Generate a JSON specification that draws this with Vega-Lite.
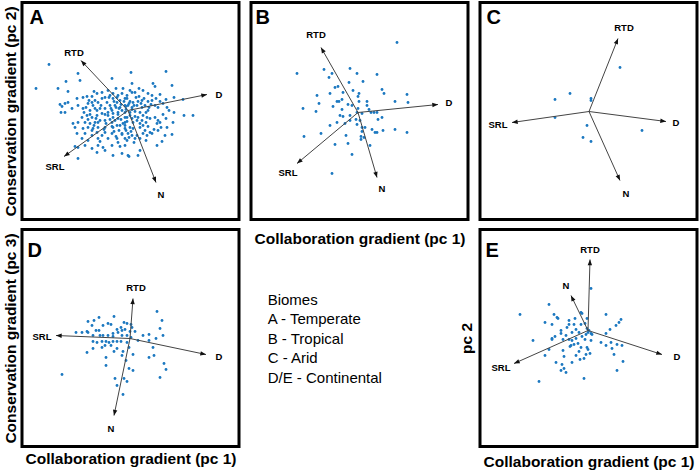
{
"$schema": "https://vega.github.io/schema/vega-lite/v6.json",
"background": "white",
"padding": {"left": 1, "top": 0.5, "right": 0, "bottom": 1},
"config": {
  "font": "Liberation Sans",
  "view": {"stroke": "black", "strokeWidth": 3},
  "axis": {"labels": false, "ticks": false, "domain": false, "grid": false, "titleFont": "Liberation Sans", "titleFontSize": 15.5, "titleFontWeight": "bold", "titleColor": "black"}
},
"datasets": {
"ptsA": [{"x":27,"y":62},{"x":56,"y":71},{"x":90,"y":76},{"x":44,"y":79},{"x":58,"y":78},{"x":14,"y":86},{"x":36,"y":86},{"x":46,"y":89},{"x":72,"y":89},{"x":94,"y":86},{"x":101,"y":86},{"x":75,"y":91},{"x":80,"y":90},{"x":86,"y":88},{"x":38,"y":102},{"x":40,"y":104},{"x":43,"y":101},{"x":46,"y":100},{"x":55,"y":96},{"x":61,"y":95},{"x":65,"y":94},{"x":70,"y":94},{"x":56,"y":103},{"x":50,"y":106},{"x":39,"y":110},{"x":43,"y":110},{"x":61,"y":106},{"x":66,"y":101},{"x":70,"y":100},{"x":73,"y":98},{"x":76,"y":100},{"x":80,"y":96},{"x":83,"y":95},{"x":88,"y":93},{"x":91,"y":96},{"x":95,"y":95},{"x":98,"y":98},{"x":103,"y":96},{"x":85,"y":100},{"x":88,"y":103},{"x":93,"y":103},{"x":98,"y":105},{"x":103,"y":103},{"x":68,"y":108},{"x":73,"y":106},{"x":78,"y":106},{"x":83,"y":106},{"x":90,"y":108},{"x":96,"y":110},{"x":103,"y":110},{"x":60,"y":115},{"x":65,"y":113},{"x":70,"y":115},{"x":75,"y":113},{"x":80,"y":111},{"x":86,"y":113},{"x":91,"y":115},{"x":96,"y":116},{"x":103,"y":115},{"x":56,"y":120},{"x":63,"y":120},{"x":68,"y":121},{"x":73,"y":120},{"x":78,"y":118},{"x":83,"y":118},{"x":90,"y":120},{"x":103,"y":120},{"x":51,"y":121},{"x":53,"y":125},{"x":61,"y":126},{"x":66,"y":125},{"x":71,"y":126},{"x":76,"y":125},{"x":83,"y":125},{"x":91,"y":125},{"x":98,"y":123},{"x":103,"y":126},{"x":55,"y":131},{"x":63,"y":131},{"x":70,"y":133},{"x":75,"y":130},{"x":83,"y":130},{"x":90,"y":131},{"x":100,"y":131},{"x":60,"y":136},{"x":66,"y":138},{"x":76,"y":136},{"x":86,"y":136},{"x":95,"y":136},{"x":103,"y":136},{"x":53,"y":144},{"x":56,"y":145},{"x":63,"y":143},{"x":70,"y":146},{"x":76,"y":143},{"x":81,"y":145},{"x":90,"y":143},{"x":98,"y":144},{"x":75,"y":150},{"x":91,"y":153},{"x":100,"y":151},{"x":56,"y":156},{"x":83,"y":148},{"x":103,"y":143},{"x":107,"y":154},
{"x":109,"y":70},{"x":144,"y":69},{"x":110,"y":81},{"x":131,"y":81},{"x":133,"y":84},{"x":150,"y":83},{"x":110,"y":90},{"x":138,"y":92},{"x":152,"y":95},{"x":161,"y":97},{"x":105,"y":96},{"x":108,"y":99},{"x":111,"y":100},{"x":116,"y":99},{"x":120,"y":98},{"x":126,"y":99},{"x":130,"y":98},{"x":133,"y":103},{"x":136,"y":105},{"x":145,"y":105},{"x":106,"y":103},{"x":110,"y":105},{"x":115,"y":103},{"x":120,"y":105},{"x":123,"y":103},{"x":126,"y":108},{"x":104,"y":107},{"x":108,"y":110},{"x":113,"y":109},{"x":118,"y":110},{"x":121,"y":113},{"x":125,"y":115},{"x":128,"y":116},{"x":133,"y":115},{"x":136,"y":118},{"x":105,"y":115},{"x":110,"y":116},{"x":115,"y":118},{"x":120,"y":118},{"x":152,"y":110},{"x":162,"y":113},{"x":135,"y":121},{"x":138,"y":120},{"x":151,"y":120},{"x":103,"y":123},{"x":108,"y":125},{"x":111,"y":126},{"x":118,"y":125},{"x":123,"y":128},{"x":136,"y":128},{"x":145,"y":125},{"x":106,"y":131},{"x":110,"y":133},{"x":125,"y":133},{"x":130,"y":131},{"x":143,"y":133},{"x":150,"y":132},{"x":105,"y":138},{"x":113,"y":136},{"x":135,"y":143},{"x":140,"y":139},{"x":106,"y":153},{"x":118,"y":148},{"x":116,"y":153},{"x":171,"y":113},
{"x":95,"y":100},{"x":99,"y":102},{"x":102,"y":99},{"x":97,"y":106},{"x":100,"y":108},{"x":104,"y":104},{"x":107,"y":101},{"x":110,"y":107},{"x":112,"y":103},{"x":114,"y":95},{"x":117,"y":94},{"x":119,"y":101},{"x":122,"y":96},{"x":124,"y":110},{"x":127,"y":105},{"x":129,"y":102},{"x":92,"y":99},{"x":94,"y":105},{"x":96,"y":112},{"x":99,"y":117},{"x":101,"y":121},{"x":105,"y":119},{"x":108,"y":113},{"x":111,"y":120},{"x":113,"y":114},{"x":116,"y":115},{"x":118,"y":121},{"x":121,"y":123},{"x":124,"y":120},{"x":126,"y":124},{"x":89,"y":106},{"x":91,"y":111},{"x":93,"y":118},{"x":95,"y":123},{"x":97,"y":128},{"x":100,"y":132},{"x":104,"y":128},{"x":107,"y":135},{"x":109,"y":129},{"x":112,"y":140},{"x":115,"y":133},{"x":118,"y":136},{"x":121,"y":131},{"x":124,"y":138},{"x":86,"y":110},{"x":88,"y":117},{"x":90,"y":124},{"x":92,"y":129},{"x":94,"y":134},{"x":96,"y":140},{"x":84,"y":121},{"x":82,"y":127},{"x":80,"y":133},{"x":78,"y":139},{"x":76,"y":120},{"x":74,"y":116},{"x":72,"y":123},{"x":70,"y":128},{"x":68,"y":112},{"x":66,"y":117},{"x":64,"y":105},{"x":62,"y":110},{"x":67,"y":98},{"x":71,"y":103},{"x":75,"y":108},{"x":79,"y":103},{"x":83,"y":112},{"x":87,"y":95},{"x":91,"y":91},{"x":96,"y":93},{"x":100,"y":91},{"x":105,"y":93},{"x":108,"y":88},{"x":113,"y":90},{"x":117,"y":86},{"x":121,"y":88},{"x":126,"y":91},{"x":130,"y":93},{"x":134,"y":96},{"x":138,"y":99},{"x":141,"y":101},{"x":144,"y":97},{"x":147,"y":108},{"x":141,"y":112},{"x":144,"y":116},{"x":139,"y":125},{"x":132,"y":127},{"x":128,"y":130}],
"ptsB": [{"x":146,"y":40},{"x":46,"y":71},{"x":73,"y":67},{"x":81,"y":71},{"x":78,"y":75},{"x":99,"y":66},{"x":106,"y":71},{"x":126,"y":72},{"x":112,"y":79},{"x":98,"y":80},{"x":87,"y":84},{"x":84,"y":85},{"x":79,"y":91},{"x":92,"y":90},{"x":102,"y":88},{"x":108,"y":91},{"x":107,"y":94},{"x":131,"y":87},{"x":133,"y":91},{"x":66,"y":93},{"x":144,"y":99},{"x":156,"y":92},{"x":157,"y":100},{"x":68,"y":101},{"x":82,"y":104},{"x":86,"y":99},{"x":88,"y":99},{"x":91,"y":97},{"x":97,"y":102},{"x":101,"y":103},{"x":108,"y":99},{"x":116,"y":99},{"x":116,"y":103},{"x":118,"y":107},{"x":123,"y":110},{"x":126,"y":110},{"x":52,"y":106},{"x":65,"y":109},{"x":91,"y":107},{"x":89,"y":113},{"x":92,"y":114},{"x":99,"y":113},{"x":106,"y":110},{"x":111,"y":111},{"x":99,"y":118},{"x":105,"y":117},{"x":109,"y":118},{"x":86,"y":120},{"x":127,"y":117},{"x":131,"y":115},{"x":79,"y":123},{"x":94,"y":121},{"x":106,"y":122},{"x":111,"y":125},{"x":114,"y":125},{"x":121,"y":127},{"x":124,"y":130},{"x":126,"y":130},{"x":132,"y":128},{"x":144,"y":127},{"x":156,"y":130},{"x":53,"y":134},{"x":70,"y":131},{"x":95,"y":133},{"x":110,"y":134},{"x":110,"y":137},{"x":113,"y":135},{"x":84,"y":142},{"x":97,"y":141},{"x":119,"y":143},{"x":101,"y":152},{"x":81,"y":171},{"x":111,"y":129},{"x":107,"y":106},{"x":120,"y":110}],
"ptsC": [{"x":140,"y":65},{"x":90,"y":91},{"x":75,"y":97},{"x":111,"y":96},{"x":111,"y":98},{"x":75,"y":115},{"x":107,"y":123},{"x":103,"y":135},{"x":111,"y":139},{"x":162,"y":128}],
"ptsD": [{"x":135,"y":82},{"x":77,"y":88},{"x":92,"y":87},{"x":66,"y":92},{"x":72,"y":91},{"x":140,"y":91},{"x":86,"y":94},{"x":89,"y":95},{"x":102,"y":93},{"x":105,"y":94},{"x":109,"y":95},{"x":70,"y":96},{"x":81,"y":96},{"x":99,"y":98},{"x":110,"y":98},{"x":138,"y":99},{"x":74,"y":101},{"x":77,"y":101},{"x":95,"y":100},{"x":100,"y":101},{"x":103,"y":100},{"x":54,"y":103},{"x":60,"y":103},{"x":65,"y":102},{"x":108,"y":102},{"x":113,"y":102},{"x":96,"y":103},{"x":91,"y":104},{"x":121,"y":106},{"x":127,"y":105},{"x":141,"y":106},{"x":78,"y":106},{"x":81,"y":106},{"x":86,"y":106},{"x":91,"y":107},{"x":100,"y":106},{"x":105,"y":106},{"x":109,"y":108},{"x":71,"y":112},{"x":75,"y":113},{"x":80,"y":112},{"x":84,"y":112},{"x":87,"y":113},{"x":91,"y":112},{"x":95,"y":112},{"x":99,"y":112},{"x":105,"y":113},{"x":116,"y":111},{"x":127,"y":111},{"x":134,"y":109},{"x":83,"y":116},{"x":89,"y":116},{"x":80,"y":118},{"x":71,"y":119},{"x":95,"y":119},{"x":101,"y":122},{"x":92,"y":122},{"x":107,"y":118},{"x":131,"y":118},{"x":65,"y":123},{"x":84,"y":128},{"x":100,"y":126},{"x":111,"y":125},{"x":127,"y":128},{"x":132,"y":126},{"x":104,"y":131},{"x":84,"y":136},{"x":142,"y":134},{"x":144,"y":140},{"x":40,"y":145},{"x":107,"y":139},{"x":111,"y":141},{"x":138,"y":148},{"x":93,"y":149},{"x":102,"y":149},{"x":105,"y":152},{"x":95,"y":156},{"x":101,"y":165},{"x":71,"y":106},{"x":66,"y":103}],
"ptsE": [{"x":69,"y":75},{"x":40,"y":85},{"x":74,"y":85},{"x":77,"y":88},{"x":78,"y":89},{"x":101,"y":83},{"x":102,"y":84},{"x":107,"y":89},{"x":126,"y":85},{"x":141,"y":90},{"x":139,"y":93},{"x":136,"y":96},{"x":65,"y":93},{"x":72,"y":95},{"x":89,"y":91},{"x":95,"y":89},{"x":89,"y":95},{"x":87,"y":98},{"x":94,"y":95},{"x":101,"y":95},{"x":105,"y":94},{"x":107,"y":99},{"x":81,"y":101},{"x":96,"y":100},{"x":109,"y":101},{"x":111,"y":104},{"x":108,"y":103},{"x":106,"y":105},{"x":112,"y":105},{"x":130,"y":100},{"x":126,"y":104},{"x":81,"y":104},{"x":86,"y":106},{"x":92,"y":103},{"x":99,"y":103},{"x":102,"y":107},{"x":72,"y":109},{"x":75,"y":107},{"x":72,"y":110},{"x":83,"y":110},{"x":89,"y":110},{"x":92,"y":111},{"x":96,"y":109},{"x":53,"y":111},{"x":94,"y":115},{"x":91,"y":116},{"x":98,"y":114},{"x":105,"y":110},{"x":121,"y":113},{"x":131,"y":113},{"x":137,"y":115},{"x":126,"y":116},{"x":142,"y":116},{"x":69,"y":120},{"x":83,"y":121},{"x":101,"y":118},{"x":107,"y":118},{"x":108,"y":120},{"x":132,"y":119},{"x":134,"y":125},{"x":99,"y":122},{"x":106,"y":125},{"x":96,"y":126},{"x":65,"y":126},{"x":84,"y":127},{"x":104,"y":129},{"x":100,"y":130},{"x":110,"y":124},{"x":143,"y":132},{"x":76,"y":133},{"x":92,"y":133},{"x":82,"y":135},{"x":84,"y":139},{"x":81,"y":141},{"x":137,"y":141},{"x":86,"y":143},{"x":104,"y":149},{"x":59,"y":152},{"x":90,"y":117},{"x":111,"y":111},{"x":111,"y":59}],
"arrows": [
 {"p":"A","v":"RTD","x0":106,"y0":108,"x1":59,"y1":58,"lx":52,"ly":50},
 {"p":"A","v":"D","x0":106,"y0":108,"x1":185,"y1":92,"lx":197,"ly":92},
 {"p":"A","v":"SRL","x0":106,"y0":108,"x1":42,"y1":154,"lx":33,"ly":164},
 {"p":"A","v":"N","x0":106,"y0":108,"x1":134,"y1":180,"lx":139,"ly":192},
 {"p":"B","v":"RTD","x0":107,"y0":110,"x1":70,"y1":45,"lx":65,"ly":32},
 {"p":"B","v":"D","x0":107,"y0":110,"x1":187,"y1":102,"lx":198,"ly":100},
 {"p":"B","v":"SRL","x0":107,"y0":110,"x1":46,"y1":161,"lx":37,"ly":170},
 {"p":"B","v":"N","x0":107,"y0":110,"x1":126,"y1":175,"lx":131,"ly":186},
 {"p":"C","v":"RTD","x0":109,"y0":109,"x1":138,"y1":36,"lx":144,"ly":25},
 {"p":"C","v":"D","x0":109,"y0":109,"x1":186,"y1":119,"lx":196,"ly":120},
 {"p":"C","v":"SRL","x0":109,"y0":109,"x1":32,"y1":120,"lx":18,"ly":122},
 {"p":"C","v":"N","x0":109,"y0":109,"x1":140,"y1":178,"lx":146,"ly":191},
 {"p":"D","v":"RTD","x0":108,"y0":109,"x1":111,"y1":69,"lx":114,"ly":58},
 {"p":"D","v":"D","x0":108,"y0":109,"x1":184,"y1":125,"lx":197,"ly":127},
 {"p":"D","v":"SRL","x0":108,"y0":109,"x1":34,"y1":106,"lx":20,"ly":107},
 {"p":"D","v":"N","x0":108,"y0":109,"x1":92,"y1":186,"lx":89,"ly":199},
 {"p":"E","v":"RTD","x0":108,"y0":101,"x1":110,"y1":30,"lx":110,"ly":20},
 {"p":"E","v":"N","x0":108,"y0":101,"x1":91,"y1":66,"lx":86,"ly":56},
 {"p":"E","v":"D","x0":108,"y0":101,"x1":182,"y1":125,"lx":197,"ly":127},
 {"p":"E","v":"SRL","x0":108,"y0":101,"x1":34,"y1":134,"lx":21,"ly":138}
],
"legend": [{"line":1,"label":"Biomes"},{"line":2,"label":"A - Temperate"},{"line":3,"label":"B - Tropical"},{"line":4,"label":"C - Arid"},{"line":5,"label":"D/E - Continental"}]
},
"spacing": 8,
"hconcat": [
{"spacing": 6, "vconcat": [
 {"width": 217, "height": 217, "layer": [
  {"data": {"name": "ptsA"}, "mark": {"type": "circle", "size": 8, "color": "#1c78c0", "opacity": 1}, "encoding": {"x": {"field": "x", "type": "quantitative", "scale": {"domain": [0,217], "nice": false, "zero": false}, "axis": null}, "y": {"field": "y", "type": "quantitative", "scale": {"domain": [0,217], "nice": false, "zero": false, "reverse": true}, "axis": {"title": "Conservation gradient (pc 2)", "titlePadding": 4}}}},
  {"data": {"name": "arrows"}, "transform": [{"filter": "datum.p === 'A'"}], "mark": {"type": "rule", "color": "#444444", "strokeWidth": 1}, "encoding": {"x": {"field": "x0", "type": "quantitative", "scale": {"domain": [0,217], "nice": false, "zero": false}, "axis": null}, "y": {"field": "y0", "type": "quantitative", "scale": {"domain": [0,217], "nice": false, "zero": false, "reverse": true}, "axis": {"title": "Conservation gradient (pc 2)", "titlePadding": 4}}, "x2": {"field": "x1"}, "y2": {"field": "y1"}}},
  {"data": {"name": "arrows"}, "transform": [{"filter": "datum.p === 'A'"}, {"calculate": "90 - atan2(datum.y0 - datum.y1, datum.x1 - datum.x0) * 180 / PI", "as": "ang"}], "mark": {"type": "point", "shape": "M0,0L0.7,1.8L-0.7,1.8Z", "filled": true, "color": "#111111", "size": 40, "opacity": 1}, "encoding": {"x": {"field": "x1", "type": "quantitative", "scale": {"domain": [0,217], "nice": false, "zero": false}, "axis": null}, "y": {"field": "y1", "type": "quantitative", "scale": {"domain": [0,217], "nice": false, "zero": false, "reverse": true}, "axis": {"title": "Conservation gradient (pc 2)", "titlePadding": 4}}, "angle": {"field": "ang", "type": "quantitative", "scale": null}}},
  {"data": {"name": "arrows"}, "transform": [{"filter": "datum.p === 'A'"}], "mark": {"type": "text", "fontSize": 9.5, "fontWeight": "bold", "color": "black"}, "encoding": {"x": {"field": "lx", "type": "quantitative", "scale": {"domain": [0,217], "nice": false, "zero": false}, "axis": null}, "y": {"field": "ly", "type": "quantitative", "scale": {"domain": [0,217], "nice": false, "zero": false, "reverse": true}, "axis": {"title": "Conservation gradient (pc 2)", "titlePadding": 4}}, "text": {"field": "v"}}},
  {"data": {"values": [{"panel": "A"}]}, "mark": {"type": "text", "align": "left", "baseline": "top", "fontSize": 20, "fontWeight": "bold", "color": "black"}, "encoding": {"x": {"datum": 7.5, "type": "quantitative", "scale": {"domain": [0,217], "nice": false, "zero": false}, "axis": null}, "y": {"datum": 5.5, "type": "quantitative", "scale": {"domain": [0,217], "nice": false, "zero": false, "reverse": true}, "axis": {"title": "Conservation gradient (pc 2)", "titlePadding": 4}}, "text": {"field": "panel"}}}
 ]},
 {"width": 217, "height": 217, "layer": [
  {"data": {"name": "ptsD"}, "mark": {"type": "circle", "size": 8, "color": "#1c78c0", "opacity": 1}, "encoding": {"x": {"field": "x", "type": "quantitative", "scale": {"domain": [0,217], "nice": false, "zero": false}, "axis": {"title": "Collaboration gradient (pc 1)", "titlePadding": 5}}, "y": {"field": "y", "type": "quantitative", "scale": {"domain": [0,217], "nice": false, "zero": false, "reverse": true}, "axis": {"title": "Conservation gradient (pc 3)", "titlePadding": 4}}}},
  {"data": {"name": "arrows"}, "transform": [{"filter": "datum.p === 'D'"}], "mark": {"type": "rule", "color": "#444444", "strokeWidth": 1}, "encoding": {"x": {"field": "x0", "type": "quantitative", "scale": {"domain": [0,217], "nice": false, "zero": false}, "axis": {"title": "Collaboration gradient (pc 1)", "titlePadding": 5}}, "y": {"field": "y0", "type": "quantitative", "scale": {"domain": [0,217], "nice": false, "zero": false, "reverse": true}, "axis": {"title": "Conservation gradient (pc 3)", "titlePadding": 4}}, "x2": {"field": "x1"}, "y2": {"field": "y1"}}},
  {"data": {"name": "arrows"}, "transform": [{"filter": "datum.p === 'D'"}, {"calculate": "90 - atan2(datum.y0 - datum.y1, datum.x1 - datum.x0) * 180 / PI", "as": "ang"}], "mark": {"type": "point", "shape": "M0,0L0.7,1.8L-0.7,1.8Z", "filled": true, "color": "#111111", "size": 40, "opacity": 1}, "encoding": {"x": {"field": "x1", "type": "quantitative", "scale": {"domain": [0,217], "nice": false, "zero": false}, "axis": {"title": "Collaboration gradient (pc 1)", "titlePadding": 5}}, "y": {"field": "y1", "type": "quantitative", "scale": {"domain": [0,217], "nice": false, "zero": false, "reverse": true}, "axis": {"title": "Conservation gradient (pc 3)", "titlePadding": 4}}, "angle": {"field": "ang", "type": "quantitative", "scale": null}}},
  {"data": {"name": "arrows"}, "transform": [{"filter": "datum.p === 'D'"}], "mark": {"type": "text", "fontSize": 9.5, "fontWeight": "bold", "color": "black"}, "encoding": {"x": {"field": "lx", "type": "quantitative", "scale": {"domain": [0,217], "nice": false, "zero": false}, "axis": {"title": "Collaboration gradient (pc 1)", "titlePadding": 5}}, "y": {"field": "ly", "type": "quantitative", "scale": {"domain": [0,217], "nice": false, "zero": false, "reverse": true}, "axis": {"title": "Conservation gradient (pc 3)", "titlePadding": 4}}, "text": {"field": "v"}}},
  {"data": {"values": [{"panel": "D"}]}, "mark": {"type": "text", "align": "left", "baseline": "top", "fontSize": 20, "fontWeight": "bold", "color": "black"}, "encoding": {"x": {"datum": 5.5, "type": "quantitative", "scale": {"domain": [0,217], "nice": false, "zero": false}, "axis": {"title": "Collaboration gradient (pc 1)", "titlePadding": 5}}, "y": {"datum": 11.5, "type": "quantitative", "scale": {"domain": [0,217], "nice": false, "zero": false, "reverse": true}, "axis": {"title": "Conservation gradient (pc 3)", "titlePadding": 4}}, "text": {"field": "panel"}}}
 ]}
]},
{"spacing": -13, "hconcat": [
 {"spacing": 12, "vconcat": [
  {"width": 217, "height": 217, "layer": [
   {"data": {"name": "ptsB"}, "mark": {"type": "circle", "size": 8, "color": "#1c78c0", "opacity": 1}, "encoding": {"x": {"field": "x", "type": "quantitative", "scale": {"domain": [0,217], "nice": false, "zero": false}, "axis": {"title": "Collaboration gradient (pc 1)", "titlePadding": 12}}, "y": {"field": "y", "type": "quantitative", "scale": {"domain": [0,217], "nice": false, "zero": false, "reverse": true}, "axis": null}}},
   {"data": {"name": "arrows"}, "transform": [{"filter": "datum.p === 'B'"}], "mark": {"type": "rule", "color": "#444444", "strokeWidth": 1}, "encoding": {"x": {"field": "x0", "type": "quantitative", "scale": {"domain": [0,217], "nice": false, "zero": false}, "axis": {"title": "Collaboration gradient (pc 1)", "titlePadding": 12}}, "y": {"field": "y0", "type": "quantitative", "scale": {"domain": [0,217], "nice": false, "zero": false, "reverse": true}, "axis": null}, "x2": {"field": "x1"}, "y2": {"field": "y1"}}},
   {"data": {"name": "arrows"}, "transform": [{"filter": "datum.p === 'B'"}, {"calculate": "90 - atan2(datum.y0 - datum.y1, datum.x1 - datum.x0) * 180 / PI", "as": "ang"}], "mark": {"type": "point", "shape": "M0,0L0.7,1.8L-0.7,1.8Z", "filled": true, "color": "#111111", "size": 40, "opacity": 1}, "encoding": {"x": {"field": "x1", "type": "quantitative", "scale": {"domain": [0,217], "nice": false, "zero": false}, "axis": {"title": "Collaboration gradient (pc 1)", "titlePadding": 12}}, "y": {"field": "y1", "type": "quantitative", "scale": {"domain": [0,217], "nice": false, "zero": false, "reverse": true}, "axis": null}, "angle": {"field": "ang", "type": "quantitative", "scale": null}}},
   {"data": {"name": "arrows"}, "transform": [{"filter": "datum.p === 'B'"}], "mark": {"type": "text", "fontSize": 9.5, "fontWeight": "bold", "color": "black"}, "encoding": {"x": {"field": "lx", "type": "quantitative", "scale": {"domain": [0,217], "nice": false, "zero": false}, "axis": {"title": "Collaboration gradient (pc 1)", "titlePadding": 12}}, "y": {"field": "ly", "type": "quantitative", "scale": {"domain": [0,217], "nice": false, "zero": false, "reverse": true}, "axis": null}, "text": {"field": "v"}}},
   {"data": {"values": [{"panel": "B"}]}, "mark": {"type": "text", "align": "left", "baseline": "top", "fontSize": 20, "fontWeight": "bold", "color": "black"}, "encoding": {"x": {"datum": 4.5, "type": "quantitative", "scale": {"domain": [0,217], "nice": false, "zero": false}, "axis": {"title": "Collaboration gradient (pc 1)", "titlePadding": 12}}, "y": {"datum": 5.5, "type": "quantitative", "scale": {"domain": [0,217], "nice": false, "zero": false, "reverse": true}, "axis": null}, "text": {"field": "panel"}}}
  ]},
  {"width": 217, "height": 160, "view": {"stroke": null},
   "data": {"name": "legend"},
   "mark": {"type": "text", "align": "left", "baseline": "middle", "fontSize": 15, "font": "Liberation Sans", "color": "black"},
   "encoding": {
    "y": {"field": "line", "type": "quantitative", "axis": null, "scale": {"domain": [-1.0, 7.2], "nice": false, "zero": false, "reverse": true}},
    "x": {"datum": 1, "type": "quantitative", "scale": {"domain": [0, 13], "nice": false, "zero": false}, "axis": null},
    "text": {"field": "label"}
   }
  }
 ]},
 {"spacing": 6, "vconcat": [
  {"width": 217, "height": 217, "layer": [
   {"data": {"name": "ptsC"}, "mark": {"type": "circle", "size": 8, "color": "#1c78c0", "opacity": 1}, "encoding": {"x": {"field": "x", "type": "quantitative", "scale": {"domain": [0,217], "nice": false, "zero": false}, "axis": null}, "y": {"field": "y", "type": "quantitative", "scale": {"domain": [0,217], "nice": false, "zero": false, "reverse": true}, "axis": null}}},
   {"data": {"name": "arrows"}, "transform": [{"filter": "datum.p === 'C'"}], "mark": {"type": "rule", "color": "#444444", "strokeWidth": 1}, "encoding": {"x": {"field": "x0", "type": "quantitative", "scale": {"domain": [0,217], "nice": false, "zero": false}, "axis": null}, "y": {"field": "y0", "type": "quantitative", "scale": {"domain": [0,217], "nice": false, "zero": false, "reverse": true}, "axis": null}, "x2": {"field": "x1"}, "y2": {"field": "y1"}}},
   {"data": {"name": "arrows"}, "transform": [{"filter": "datum.p === 'C'"}, {"calculate": "90 - atan2(datum.y0 - datum.y1, datum.x1 - datum.x0) * 180 / PI", "as": "ang"}], "mark": {"type": "point", "shape": "M0,0L0.7,1.8L-0.7,1.8Z", "filled": true, "color": "#111111", "size": 40, "opacity": 1}, "encoding": {"x": {"field": "x1", "type": "quantitative", "scale": {"domain": [0,217], "nice": false, "zero": false}, "axis": null}, "y": {"field": "y1", "type": "quantitative", "scale": {"domain": [0,217], "nice": false, "zero": false, "reverse": true}, "axis": null}, "angle": {"field": "ang", "type": "quantitative", "scale": null}}},
   {"data": {"name": "arrows"}, "transform": [{"filter": "datum.p === 'C'"}], "mark": {"type": "text", "fontSize": 9.5, "fontWeight": "bold", "color": "black"}, "encoding": {"x": {"field": "lx", "type": "quantitative", "scale": {"domain": [0,217], "nice": false, "zero": false}, "axis": null}, "y": {"field": "ly", "type": "quantitative", "scale": {"domain": [0,217], "nice": false, "zero": false, "reverse": true}, "axis": null}, "text": {"field": "v"}}},
   {"data": {"values": [{"panel": "C"}]}, "mark": {"type": "text", "align": "left", "baseline": "top", "fontSize": 20, "fontWeight": "bold", "color": "black"}, "encoding": {"x": {"datum": 6.5, "type": "quantitative", "scale": {"domain": [0,217], "nice": false, "zero": false}, "axis": null}, "y": {"datum": 5.5, "type": "quantitative", "scale": {"domain": [0,217], "nice": false, "zero": false, "reverse": true}, "axis": null}, "text": {"field": "panel"}}}
  ]},
  {"width": 217, "height": 217, "layer": [
   {"data": {"name": "ptsE"}, "mark": {"type": "circle", "size": 8, "color": "#1c78c0", "opacity": 1}, "encoding": {"x": {"field": "x", "type": "quantitative", "scale": {"domain": [0,217], "nice": false, "zero": false}, "axis": {"title": "Collaboration gradient (pc 1)", "titlePadding": 8}}, "y": {"field": "y", "type": "quantitative", "scale": {"domain": [0,217], "nice": false, "zero": false, "reverse": true}, "axis": {"title": "pc 2", "titlePadding": 6}}}},
   {"data": {"name": "arrows"}, "transform": [{"filter": "datum.p === 'E'"}], "mark": {"type": "rule", "color": "#444444", "strokeWidth": 1}, "encoding": {"x": {"field": "x0", "type": "quantitative", "scale": {"domain": [0,217], "nice": false, "zero": false}, "axis": {"title": "Collaboration gradient (pc 1)", "titlePadding": 8}}, "y": {"field": "y0", "type": "quantitative", "scale": {"domain": [0,217], "nice": false, "zero": false, "reverse": true}, "axis": {"title": "pc 2", "titlePadding": 6}}, "x2": {"field": "x1"}, "y2": {"field": "y1"}}},
   {"data": {"name": "arrows"}, "transform": [{"filter": "datum.p === 'E'"}, {"calculate": "90 - atan2(datum.y0 - datum.y1, datum.x1 - datum.x0) * 180 / PI", "as": "ang"}], "mark": {"type": "point", "shape": "M0,0L0.7,1.8L-0.7,1.8Z", "filled": true, "color": "#111111", "size": 40, "opacity": 1}, "encoding": {"x": {"field": "x1", "type": "quantitative", "scale": {"domain": [0,217], "nice": false, "zero": false}, "axis": {"title": "Collaboration gradient (pc 1)", "titlePadding": 8}}, "y": {"field": "y1", "type": "quantitative", "scale": {"domain": [0,217], "nice": false, "zero": false, "reverse": true}, "axis": {"title": "pc 2", "titlePadding": 6}}, "angle": {"field": "ang", "type": "quantitative", "scale": null}}},
   {"data": {"name": "arrows"}, "transform": [{"filter": "datum.p === 'E'"}], "mark": {"type": "text", "fontSize": 9.5, "fontWeight": "bold", "color": "black"}, "encoding": {"x": {"field": "lx", "type": "quantitative", "scale": {"domain": [0,217], "nice": false, "zero": false}, "axis": {"title": "Collaboration gradient (pc 1)", "titlePadding": 8}}, "y": {"field": "ly", "type": "quantitative", "scale": {"domain": [0,217], "nice": false, "zero": false, "reverse": true}, "axis": {"title": "pc 2", "titlePadding": 6}}, "text": {"field": "v"}}},
   {"data": {"values": [{"panel": "E"}]}, "mark": {"type": "text", "align": "left", "baseline": "top", "fontSize": 20, "fontWeight": "bold", "color": "black"}, "encoding": {"x": {"datum": 5.5, "type": "quantitative", "scale": {"domain": [0,217], "nice": false, "zero": false}, "axis": {"title": "Collaboration gradient (pc 1)", "titlePadding": 8}}, "y": {"datum": 11.5, "type": "quantitative", "scale": {"domain": [0,217], "nice": false, "zero": false, "reverse": true}, "axis": {"title": "pc 2", "titlePadding": 6}}, "text": {"field": "panel"}}}
  ]}
 ]}
]}
]
}
